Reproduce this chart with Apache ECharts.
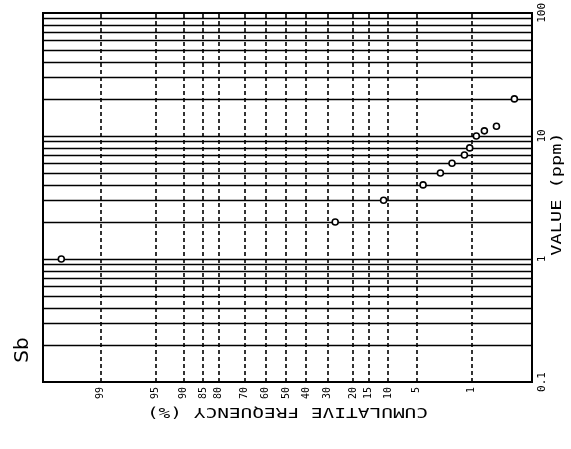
<!DOCTYPE html>
<html><head><meta charset="utf-8">
<script src="https://cdn.jsdelivr.net/npm/echarts@6/dist/echarts.min.js"></script>
<style>html,body{margin:0;padding:0;background:#fff}#c{width:571px;height:449px}</style>
</head><body><div id="c"></div>
<script>
// Sb: cumulative frequency (%) against concentration (ppm) on probability paper
const cumFreq = [99.76, 26.8, 11.0, 4.25, 2.62, 1.85, 1.25, 1.05, 0.84, 0.635, 0.41, 0.206];
const valuePpm = [1, 2, 3, 4, 5, 6, 7, 8, 10, 11, 12, 20];
const probTicks = [99, 95, 90, 85, 80, 70, 60, 50, 40, 30, 20, 15, 10, 5, 1];
const valueGrid = [0.2, 0.3, 0.4, 0.5, 0.6, 0.7, 0.8, 0.9, 1, 2, 3, 4, 5, 6, 7, 8, 9, 10, 20, 30, 40, 50, 60, 70, 80, 90];

// Inverse of the standard normal CDF (Acklam), used as the probability-axis scale
function probit(p) {
  const a = [-3.969683028665376e+01, 2.209460984245205e+02, -2.759285104469687e+02, 1.383577518672690e+02, -3.066479806614716e+01, 2.506628277459239e+00];
  const b = [-5.447609879822406e+01, 1.615858368580409e+02, -1.556989798598866e+02, 6.680131188771972e+01, -1.328068155288572e+01];
  const c = [-7.784894002430293e-03, -3.223964580411365e-01, -2.400758277161838e+00, -2.549732539343734e+00, 4.374664141464968e+00, 2.938163982698783e+00];
  const d = [7.784695709041462e-03, 3.224671290700398e-01, 2.445134137142996e+00, 3.754408661907416e+00];
  const pl = 0.02425, ph = 1 - pl;
  let q, r;
  if (p < pl) {
    q = Math.sqrt(-2 * Math.log(p));
    return (((((c[0]*q+c[1])*q+c[2])*q+c[3])*q+c[4])*q+c[5]) / ((((d[0]*q+d[1])*q+d[2])*q+d[3])*q+1);
  }
  if (p <= ph) {
    q = p - 0.5; r = q * q;
    return (((((a[0]*r+a[1])*r+a[2])*r+a[3])*r+a[4])*r+a[5])*q / (((((b[0]*r+b[1])*r+b[2])*r+b[3])*r+b[4])*r+1);
  }
  q = Math.sqrt(-2 * Math.log(1 - p));
  return -(((((c[0]*q+c[1])*q+c[2])*q+c[3])*q+c[4])*q+c[5]) / ((((d[0]*q+d[1])*q+d[2])*q+d[3])*q+1);
}
const z = p => probit(p / 100);
const tickZ = probTicks.map(z);

const mono = '"DejaVu Sans Mono", "Liberation Mono", monospace';
const chart = echarts.init(document.getElementById('c'), null, { renderer: 'canvas' });

const gridLines = tickZ.map(v => ({ xAxis: v, lineStyle: { type: [4, 3], width: 1.6, color: '#000' } }))
  .concat(valueGrid.map(v => ({ yAxis: v, lineStyle: { type: 'solid', width: 1.4, color: '#000' } })));

chart.setOption({
  animation: false,
  backgroundColor: '#fff',
  grid: { left: 43, right: 39, top: 10, bottom: 67, show: true, borderColor: '#000', borderWidth: 2, backgroundColor: 'transparent' },
  xAxis: {
    type: 'value', min: -3.09, max: 3.05, inverse: true,
    axisLine: { show: false }, axisTick: { show: false }, splitLine: { show: false },
    axisLabel: {
      customValues: tickZ, rotate: 90, margin: 5, fontSize: 10, fontFamily: mono, color: '#000',
      formatter: v => {
        let best = 0;
        tickZ.forEach((t, i) => { if (Math.abs(t - v) < Math.abs(tickZ[best] - v)) best = i; });
        return String(probTicks[best]);
      }
    }
  },
  yAxis: {
    type: 'log', logBase: 10, min: 0.1, max: 100, position: 'right',
    axisLine: { show: false }, axisTick: { show: false }, splitLine: { show: false },
    axisLabel: { rotate: 90, margin: 5, fontSize: 11, fontFamily: mono, color: '#000', formatter: v => String(v) }
  },
  graphic: [
    { type: 'text', x: 287.5, y: 412, rotation: Math.PI, scaleX: 1.39,
      style: { text: 'CUMULATIVE FREQUENCY (%)', font: '14px ' + mono, fill: '#000', align: 'center', verticalAlign: 'middle' } },
    { type: 'text', x: 557, y: 194, rotation: Math.PI / 2, scaleX: 1.33,
      style: { text: 'VALUE (ppm)', font: '14px ' + mono, fill: '#000', align: 'center', verticalAlign: 'middle' } },
    { type: 'text', x: 23, y: 350, rotation: Math.PI / 2,
      style: { text: 'Sb', font: '20px "DejaVu Sans", sans-serif', fill: '#000', align: 'center', verticalAlign: 'middle' } }
  ],
  series: [{
    type: 'scatter',
    data: cumFreq.map((p, i) => [z(p), valuePpm[i]]),
    symbol: 'circle', symbolSize: 6, z: 5,
    itemStyle: { color: '#fff', borderColor: '#000', borderWidth: 1.6, opacity: 1 },
    markLine: { silent: true, symbol: ['none', 'none'], label: { show: false }, z: 2, data: gridLines }
  }]
});
</script></body></html>
